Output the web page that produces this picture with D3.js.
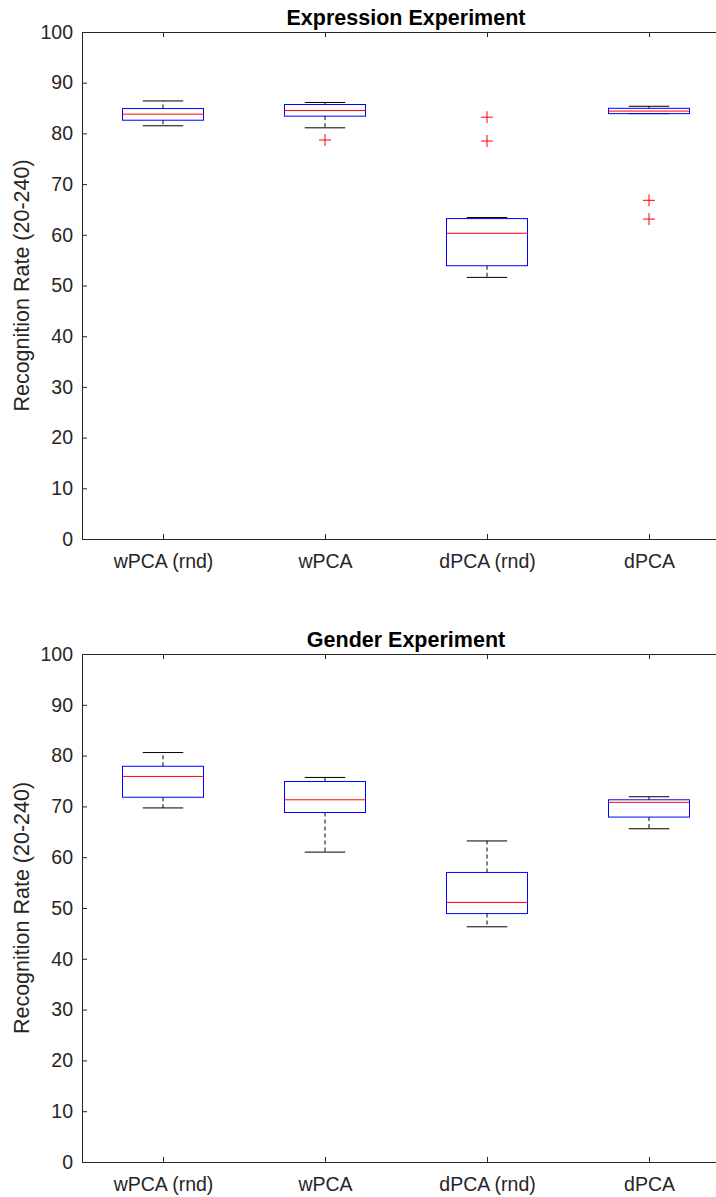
<!DOCTYPE html>
<html>
<head>
<meta charset="utf-8">
<script src="https://cdn.jsdelivr.net/npm/d3@7"></script>
<style>
  body { margin: 0; background: #fff; }
  text { font-family: Arial, "Liberation Sans", sans-serif; fill: #262626; }
</style>
</head>
<body>
<script>
// Categories and tick values
var categories = ["wPCA (rnd)", "wPCA", "dPCA (rnd)", "dPCA"];
var yTicks = [0, 10, 20, 30, 40, 50, 60, 70, 80, 90, 100];

// Expression experiment
var exprLow = [81.5, 81.1, 51.6, 83.9];
var exprQ1 = [82.6, 83.4, 53.9, 83.9];
var exprMedian = [83.8, 84.5, 60.3, 84.4];
var exprQ3 = [84.9, 85.7, 63.2, 84.95];
var exprHigh = [86.4, 86.1, 63.4, 85.35];
var exprOutliers = [[], [78.7], [83.2, 78.5], [66.8, 63.1]];

// Gender experiment
var genderLow = [69.7, 61.0, 46.3, 65.6];
var genderQ1 = [71.8, 68.8, 48.9, 67.9];
var genderMedian = [75.9, 71.3, 51.1, 70.8];
var genderQ3 = [77.9, 74.9, 57.0, 71.3];
var genderHigh = [80.6, 75.7, 63.2, 71.9];
var genderOutliers = [[], [], [], []];

var svgWidth = 716;
var svgHeight = 1197;

var svg = d3.select("body")
  .append("svg")
  .attr("width", svgWidth)
  .attr("height", svgHeight);

function drawPanel(top, bottom, title, low, q1, med, q3, high, outliers) {
  var left = 82, right = 730;

  var x = d3.scalePoint()
    .domain(categories)
    .range([left, right])
    .padding(0.5);
  var step = x.step();

  var y = d3.scaleLinear()
    .domain([0, 100])
    .range([bottom, top]);

  var g = svg.append("g");

  // axes (ticks point inward, like matlab)
  g.append("g")
    .attr("transform", `translate(0, ${bottom})`)
    .call(d3.axisBottom(x).tickSize(-5).tickSizeOuter(0).tickPadding(15))
    .call(a => a.selectAll("text").style("font-size", "19.5px"));

  g.append("g")
    .attr("transform", `translate(0, ${top})`)
    .call(d3.axisTop(x).tickSize(-5).tickSizeOuter(0).tickFormat(""));

  g.append("g")
    .attr("transform", `translate(${left}, 0)`)
    .call(d3.axisLeft(y).tickValues(yTicks).tickSize(-5).tickSizeOuter(0).tickPadding(9))
    .call(a => a.selectAll("text").style("font-size", "19.5px"));

  g.append("g")
    .attr("transform", `translate(${right}, 0)`)
    .call(d3.axisRight(y).tickValues(yTicks).tickSize(-5).tickSizeOuter(0).tickFormat(""));

  g.selectAll(".domain, .tick line").attr("stroke", "#262626");
  g.selectAll(".tick text").attr("fill", "#262626").style("font-family", "Arial, 'Liberation Sans', sans-serif");

  // title
  g.append("text")
    .attr("x", (left + right) / 2)
    .attr("y", top - 7)
    .attr("text-anchor", "middle")
    .style("font-size", "21.5px")
    .style("font-weight", "bold")
    .attr("fill", "#000")
    .style("fill", "#000")
    .text(title);

  // y label
  g.append("text")
    .attr("transform", `translate(29, ${(top + bottom) / 2}) rotate(-90)`)
    .attr("text-anchor", "middle")
    .style("font-size", "21.5px")
    .text("Recognition Rate (20-240)");

  var boxW = step * 0.5, capW = step * 0.25;

  categories.forEach(function(c, i) {
    var cx = x(c);
    // whiskers
    g.append("line")
      .attr("x1", cx).attr("x2", cx)
      .attr("y1", y(q3[i])).attr("y2", y(high[i]))
      .attr("stroke", "#000").attr("stroke-dasharray", "4,3");
    g.append("line")
      .attr("x1", cx).attr("x2", cx)
      .attr("y1", y(q1[i])).attr("y2", y(low[i]))
      .attr("stroke", "#000").attr("stroke-dasharray", "4,3");
    // caps
    [low[i], high[i]].forEach(function(v) {
      g.append("line")
        .attr("x1", cx - capW / 2).attr("x2", cx + capW / 2)
        .attr("y1", y(v)).attr("y2", y(v))
        .attr("stroke", "#000");
    });
    // box
    g.append("rect")
      .attr("x", cx - boxW / 2)
      .attr("y", y(q3[i]))
      .attr("width", boxW)
      .attr("height", y(q1[i]) - y(q3[i]))
      .attr("fill", "none")
      .attr("stroke", "#0000ff");
    // median
    g.append("line")
      .attr("x1", cx - boxW / 2).attr("x2", cx + boxW / 2)
      .attr("y1", y(med[i])).attr("y2", y(med[i]))
      .attr("stroke", "#ff0000");
    // outliers
    outliers[i].forEach(function(v) {
      g.append("path")
        .attr("d", `M${cx - 6},${y(v)}H${cx + 6}M${cx},${y(v) - 6}V${y(v) + 6}`)
        .attr("stroke", "#ff0000")
        .attr("fill", "none");
    });
  });
}

drawPanel(32, 539, "Expression Experiment", exprLow, exprQ1, exprMedian, exprQ3, exprHigh, exprOutliers);
drawPanel(654, 1162, "Gender Experiment", genderLow, genderQ1, genderMedian, genderQ3, genderHigh, genderOutliers);
</script>
</body>
</html>
